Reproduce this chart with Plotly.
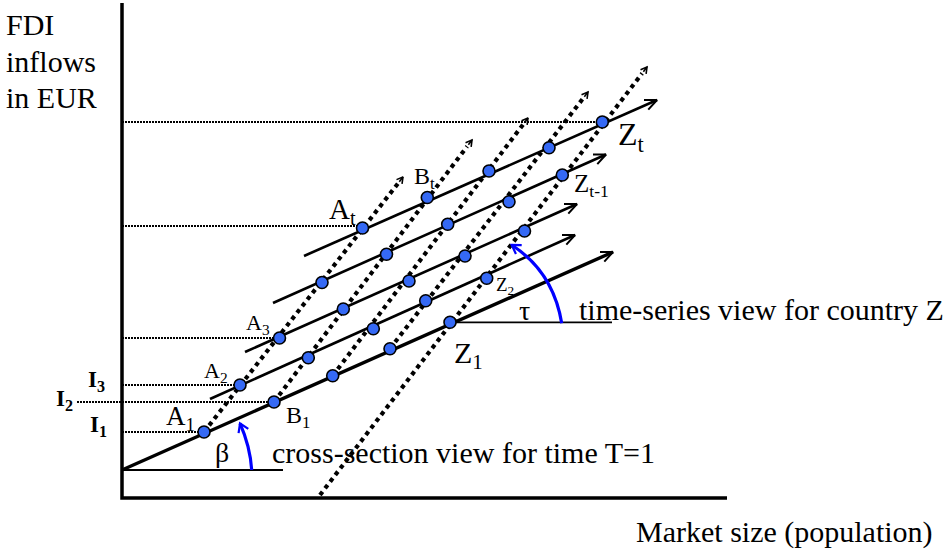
import math
import plotly.graph_objects as go

W, H = 950, 553

# ---- data: intersections (rows = cross-sections T=1, 2, 3, t-1, t; columns = countries A, B, C, D, Z)
row1_x = [204, 274, 332.7, 390, 450]
row1_y = [432, 402, 375.7, 348.7, 322.3]
row2_x = [240, 308.3, 373.3, 425.7, 486.7]
row2_y = [385, 357.7, 328.7, 300.7, 278.3]
row3_x = [279.5, 343.3, 409, 465, 524.5]
row3_y = [338, 309, 281, 256, 231]
row4_x = [322, 386.5, 447.7, 509, 562.3]
row4_y = [282.5, 254.3, 224.3, 201.7, 175]
row5_x = [362.5, 427.3, 489, 549, 602.3]
row5_y = [228, 197.5, 171, 147.7, 122]

# cross-section lines (solid) start / arrow tip
cs_start_x = [122, 210, 245, 273, 304]
cs_start_y = [470, 399, 352, 303, 256]
cs_end_x = [613, 575, 577, 606, 657]
cs_end_y = [252, 235, 204, 154.5, 100]

# time-series lines (dotted) start / arrow tip, countries A, B, C, D, Z
ts_start_x = [204, 274, 332.7, 390, 320]
ts_start_y = [432, 402, 375.7, 348.7, 495]
ts_end_x = [403, 472, 528, 588, 647]
ts_end_y = [177, 140, 118, 92, 67]

# horizontal FDI levels
level_y = [122, 226, 338, 385, 402, 432]
level_x0 = [122, 122, 122, 122, 77, 122]
level_x1 = [602.3, 362.5, 279.5, 240, 274, 204]

# axes
axis_x = [122, 122, 727]
axis_y = [3, 498, 498]

# angle references: beta at (122,470), tau at Z1
beta_base_x = [122, 283]
beta_base_y = [470, 470]
tau_base_x = [450, 612]
tau_base_y = [322.3, 322.3]
beta_arc = [(251.7, 470), (250.2, 446.4), (240, 423.3)]
tau_arc = [(561.7, 323.3), (553.3, 271.9), (511.7, 245)]

FONT = "Liberation Serif"


def head(x0, y0, x1, y1, L, ang):
    dx, dy = x1 - x0, y1 - y0
    n = math.hypot(dx, dy)
    ux, uy = dx / n, dy / n
    pts = []
    for s in (1, -1):
        a = math.radians(ang) * s
        rx = ux * math.cos(a) - uy * math.sin(a)
        ry = ux * math.sin(a) + uy * math.cos(a)
        pts.append((x1 - L * rx, y1 - L * ry))
    return [pts[0][0], x1, pts[1][0], None], [pts[0][1], y1, pts[1][1], None]


fig = go.Figure()

def line(xs, ys, width, dash="solid", color="black"):
    fig.add_trace(go.Scatter(x=xs, y=ys, mode="lines", hoverinfo="skip",
                             line=dict(color=color, width=width, dash=dash),
                             showlegend=False))

# level lines
for i in range(len(level_y)):
    line([level_x0[i], level_x1[i]], [level_y[i], level_y[i]], 2, dash="2px,1px")

# axes
line(axis_x, axis_y, 3.5)

# angle base lines
line(beta_base_x, beta_base_y, 1.8)
line(tau_base_x, tau_base_y, 1.8)

# time-series dotted lines with small arrow heads
hx, hy = [], []
for i in range(len(ts_start_x)):
    x0, y0, x1, y1 = ts_start_x[i], ts_start_y[i], ts_end_x[i], ts_end_y[i]
    n = math.hypot(x1 - x0, y1 - y0)
    ux, uy = (x1 - x0) / n, (y1 - y0) / n
    line([x0, x1 - 8 * ux], [y0, y1 - 8 * uy], 4.2, dash="dot")
    a, b = head(x0, y0, x1, y1, 7, 30)
    hx += a + [x1 - 6 * ux, x1, None]
    hy += b + [y1 - 6 * uy, y1, None]
line(hx, hy, 1.6)

# cross-section solid lines with arrow heads
for i in range(len(cs_start_x)):
    w = 3.4 if i == 0 else 2.6
    line([cs_start_x[i], cs_end_x[i]], [cs_start_y[i], cs_end_y[i]], w)
    a, b = head(cs_start_x[i], cs_start_y[i], cs_end_x[i], cs_end_y[i], 13, 24)
    line(a, b, 2.0)

# blue angle arcs
for arc in (beta_arc, tau_arc):
    (p0, c, p2) = arc
    fig.add_shape(type="path", xref="x", yref="y",
                  path=f"M {p0[0]},{p0[1]} Q {c[0]},{c[1]} {p2[0]},{p2[1]}",
                  line=dict(color="#0000ff", width=3.2))
    a, b = head(c[0], c[1], p2[0], p2[1], 10, 32)
    line(a, b, 2.2, color="#0000ff")

# intersection markers
px = row1_x + row2_x + row3_x + row4_x + row5_x
py = row1_y + row2_y + row3_y + row4_y + row5_y
fig.add_trace(go.Scatter(x=px, y=py, mode="markers", hoverinfo="skip", showlegend=False,
                         marker=dict(size=12, color="#3569f5",
                                     line=dict(color="black", width=1.6))))


def txt(s, x, baseline, size, bold=False, sub=False):
    y = baseline - 0.34 * size + (0.08 * size if sub else 0)
    fig.add_annotation(x=x, y=y, xref="x", yref="y", text=(f"<b>{s}</b>" if bold else s),
                       showarrow=False, xanchor="left", yanchor="middle",
                       font=dict(family=FONT, size=size, color="black"))

txt("FDI", 4, 35, 30)
txt("inflows", 4, 72, 30)
txt("in EUR", 4, 108, 30)
txt("Market size (population)", 634, 542, 30)
txt("time-series view for country Z", 577, 320, 30)
txt("cross-section view for time T=1", 270, 463, 30)
txt("τ", 517, 320, 28)
txt("β", 213, 462, 28)

txt("A<sub>1</sub>", 164, 425, 27, sub=True)
txt("B<sub>1</sub>", 284, 423, 24, sub=True)
txt("A<sub>2</sub>", 202, 378, 22, sub=True)
txt("A<sub>3</sub>", 244, 330, 22, sub=True)
txt("A<sub>t</sub>", 327, 219, 29, sub=True)
txt("B<sub>t</sub>", 412, 184, 24, sub=True)
txt("Z<sub>1</sub>", 452, 363, 30, sub=True)
txt("Z<sub>2</sub>", 494, 291, 19, sub=True)
txt("Z<sub>t-1</sub>", 572, 192, 25, sub=True)
txt("Z<sub>t</sub>", 616, 145, 32, sub=True)

txt("I<sub>1</sub>", 88, 432, 23, bold=True, sub=True)
txt("I<sub>2</sub>", 54, 406, 23, bold=True, sub=True)
txt("I<sub>3</sub>", 86, 387, 23, bold=True, sub=True)

fig.update_layout(
    width=W, height=H, margin=dict(l=0, r=0, t=0, b=0, pad=0),
    paper_bgcolor="white", plot_bgcolor="white", showlegend=False,
    xaxis=dict(range=[0, W], visible=False, fixedrange=True),
    yaxis=dict(range=[H, 0], visible=False, fixedrange=True),
)

fig.write_html("out.html", config={"displayModeBar": False},
               post_script="document.body.style.margin='0px';")
